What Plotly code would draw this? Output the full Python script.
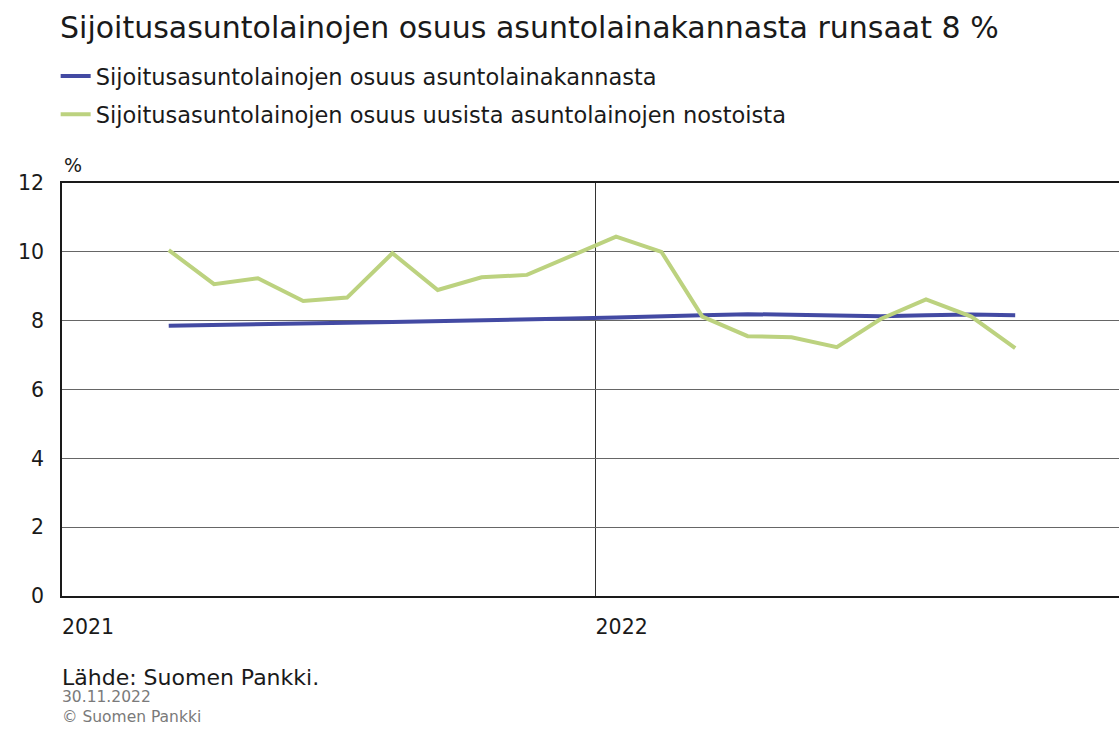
import plotly.graph_objects as go

months = ["2021-03-15", "2021-04-15", "2021-05-15", "2021-06-15", "2021-07-15", "2021-08-15",
          "2021-09-15", "2021-10-15", "2021-11-15", "2021-12-15", "2022-01-15", "2022-02-15",
          "2022-03-15", "2022-04-15", "2022-05-15", "2022-06-15", "2022-07-15", "2022-08-15",
          "2022-09-15", "2022-10-15"]
share_stock = [7.85, 7.88, 7.90, 7.93, 7.94, 7.96, 7.98, 8.01, 8.04, 8.06, 8.09, 8.14,
               8.16, 8.19, 8.17, 8.16, 8.13, 8.16, 8.18, 8.16]
share_new = [10.05, 9.06, 9.23, 8.57, 8.67, 9.96, 8.89, 9.26, 9.33, 9.88, 10.44, 10.0,
             8.12, 7.55, 7.52, 7.23, 8.05, 8.62, 8.12, 7.2]
name_stock = "Sijoitusasuntolainojen osuus asuntolainakannasta"
name_new = "Sijoitusasuntolainojen osuus uusista asuntolainojen nostoista"
title = "Sijoitusasuntolainojen osuus asuntolainakannasta runsaat 8 %"
y_ticks = [0, 2, 4, 6, 8, 10, 12]
x_ticks = ["2021-01-01", "2022-01-01"]
x_labels = ["2021", "2022"]

FONT = "DejaVu Sans, sans-serif"
fig = go.Figure()
fig.add_trace(go.Scatter(x=months, y=share_stock, mode="lines", name=name_stock,
                         line=dict(color="#434aa3", width=4), legendgroup="a"))
fig.add_trace(go.Scatter(x=months, y=share_new, mode="lines", name=name_new,
                         line=dict(color="#bcd27f", width=4), legendgroup="b"))

fig.update_layout(
    width=1119, height=729,
    margin=dict(l=62, r=0, t=183, b=133),
    paper_bgcolor="white", plot_bgcolor="white",
    font=dict(family=FONT, color="#1a1a1a", size=20),
    title=dict(text=title, x=60/1119, xanchor="left", y=1 - 27/729, yanchor="middle",
               font=dict(size=30, color="#1a1a1a", family=FONT)),
    showlegend=True,
    legend=dict(x=-0.006, xanchor="left", y=1.31, yanchor="top", orientation="v",
                font=dict(size=22.5, family=FONT, color="#1a1a1a"),
                traceorder="grouped", tracegroupgap=6, bgcolor="rgba(0,0,0,0)",
                itemwidth=30),
    xaxis=dict(range=["2021-01-01", "2022-12-25"], tickvals=x_ticks, ticktext=x_labels,
               showgrid=True, gridcolor="#333333", gridwidth=1,
               showline=True, linecolor="#1a1a1a", linewidth=1.5, mirror=True,
               ticks="", ticklabelshift=26, ticklabelstandoff=12,
               tickfont=dict(size=20.5, family=FONT, color="#1a1a1a"), zeroline=False),
    yaxis=dict(range=[0, 12], tickvals=y_ticks, showgrid=True, gridcolor="#666666", gridwidth=1,
               showline=True, linecolor="#1a1a1a", linewidth=1.5, ticks="",
               ticklabelstandoff=12,
               tickfont=dict(size=20.5, family=FONT, color="#1a1a1a"), zeroline=False),
)
fig.add_annotation(text="%", xref="paper", yref="paper", x=0.0, y=1.0, xanchor="left",
                   yanchor="bottom", yshift=5, showarrow=False, font=dict(size=19, family=FONT, color="#1a1a1a"))
fig.add_annotation(text="Lähde: Suomen Pankki.", xref="paper", yref="paper", x=0, y=0,
                   xanchor="left", yanchor="middle", yshift=-81, xshift=-2, showarrow=False,
                   font=dict(size=22, family=FONT, color="#1a1a1a"))
fig.add_annotation(text="30.11.2022", xref="paper", yref="paper", x=0, y=0,
                   xanchor="left", yanchor="middle", yshift=-101, xshift=-2, showarrow=False,
                   font=dict(size=15.5, family=FONT, color="#7a7a7a"))
fig.add_annotation(text="© Suomen Pankki", xref="paper", yref="paper", x=0, y=0,
                   xanchor="left", yanchor="middle", yshift=-121, xshift=-2, showarrow=False,
                   font=dict(size=15.5, family=FONT, color="#7a7a7a"))
fig.write_html("out.html")
